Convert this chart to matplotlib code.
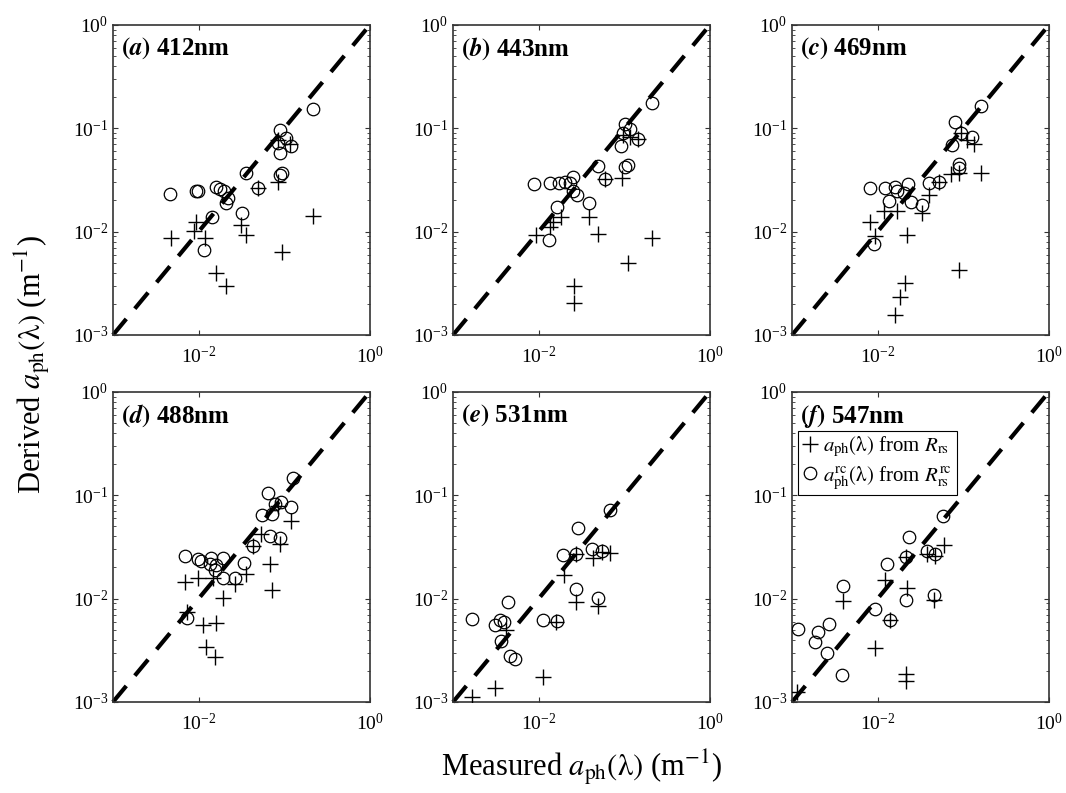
import numpy as np
import matplotlib.pyplot as plt
from matplotlib.ticker import LogLocator, NullFormatter, NullLocator

plt.rcParams['font.family'] = ['Liberation Serif', 'DejaVu Serif']
plt.rcParams['mathtext.fontset'] = 'stix'

# measured vs derived phytoplankton absorption (m^-1), one block per band
# "rs": derived from Rrs, "rc": derived from corrected Rrs
a_meas_rs = [0.0835, 0.116, 0.0845, 0.0495, 0.218, 0.0094, 0.00885, 0.0119,
             0.0047, 0.0316, 0.0361, 0.0953, 0.0161, 0.0211]
a_der_rs = [0.077, 0.0705, 0.0305, 0.0262, 0.0142, 0.0125, 0.0102, 0.0086,
            0.0086, 0.0116, 0.0093, 0.0064, 0.00395, 0.0030]
a_meas_rc = [0.218, 0.0887, 0.106, 0.085, 0.121, 0.0887, 0.093, 0.0887, 0.0361,
             0.0495, 0.00468, 0.0094, 0.0098, 0.0161, 0.0176, 0.0196, 0.0221,
             0.0208, 0.0142, 0.0319, 0.0116]
a_der_rc = [0.153, 0.0964, 0.080, 0.0716, 0.0675, 0.057, 0.0367, 0.035, 0.0372,
            0.0262, 0.023, 0.0248, 0.0245, 0.0272, 0.026, 0.0249, 0.021,
            0.0188, 0.014, 0.0153, 0.00665]

b_meas_rs = [0.0953, 0.116, 0.145, 0.0593, 0.093, 0.0184, 0.0389, 0.0148,
             0.0135, 0.00925, 0.0495, 0.21, 0.111, 0.0257, 0.0257]
b_der_rs = [0.086, 0.083, 0.0789, 0.032, 0.0328, 0.014, 0.014, 0.0125, 0.0112,
            0.0093, 0.0094, 0.0086, 0.00494, 0.00298, 0.00202]
b_meas_rc = [0.21, 0.1014, 0.116, 0.0971, 0.145, 0.0926, 0.111, 0.101, 0.0495,
             0.0593, 0.00877, 0.0135, 0.0173, 0.0201, 0.0253, 0.0231, 0.0253,
             0.0277, 0.0389, 0.0164, 0.0132]
b_der_rc = [0.177, 0.109, 0.0977, 0.0895, 0.0789, 0.0675, 0.0442, 0.0425,
            0.0431, 0.032, 0.0287, 0.0298, 0.0295, 0.0305, 0.034, 0.0295,
            0.0249, 0.0226, 0.0188, 0.0172, 0.0083]

c_meas_rs = [0.093, 0.111, 0.133, 0.0887, 0.159, 0.071, 0.0517, 0.0395, 0.0325,
             0.0166, 0.0118, 0.0081, 0.0093, 0.0221, 0.0887, 0.0211, 0.0184,
             0.0161]
c_der_rs = [0.0895, 0.077, 0.0705, 0.0367, 0.037, 0.0361, 0.0305, 0.0226,
            0.0153, 0.016, 0.0159, 0.0125, 0.0091, 0.0093, 0.00425, 0.00316,
            0.00235, 0.00156]
c_meas_rc = [0.159, 0.081, 0.093, 0.127, 0.074, 0.0887, 0.0887, 0.0517, 0.0395,
             0.0081, 0.0121, 0.0161, 0.0227, 0.0168, 0.0202, 0.0135, 0.0242,
             0.0325, 0.00917]
c_der_rc = [0.164, 0.116, 0.0895, 0.0818, 0.069, 0.0452, 0.0411, 0.0305,
            0.0298, 0.0267, 0.0267, 0.0272, 0.029, 0.0245, 0.0235, 0.0198,
            0.0195, 0.0181, 0.0076]

d_meas_rs = [0.0835, 0.121, 0.0542, 0.0887, 0.0432, 0.0676, 0.0361, 0.0264,
             0.071, 0.00985, 0.00689, 0.0148, 0.0193, 0.0073, 0.0111, 0.0161,
             0.0123, 0.0155]
d_der_rs = [0.0787, 0.0565, 0.0419, 0.0334, 0.0322, 0.0214, 0.0173, 0.0137,
            0.012, 0.0158, 0.0145, 0.0158, 0.0101, 0.0075, 0.00557, 0.0058,
            0.00343, 0.00274]
d_meas_rc = [0.127, 0.0649, 0.0776, 0.0926, 0.121, 0.0556, 0.071, 0.069,
             0.0887, 0.0432, 0.00689, 0.00985, 0.0106, 0.0141, 0.0191, 0.0135,
             0.0161, 0.0155, 0.0337, 0.0193, 0.0264, 0.00733]
d_der_rc = [0.146, 0.104, 0.082, 0.0866, 0.0773, 0.0641, 0.066, 0.0404,
            0.0383, 0.0322, 0.0258, 0.0243, 0.0231, 0.0248, 0.0248, 0.0217,
            0.0211, 0.0191, 0.0222, 0.0158, 0.0158, 0.00647]

e_meas_rs = [0.0677, 0.0556, 0.0432, 0.0276, 0.0197, 0.0276, 0.0495, 0.0161,
             0.0042, 0.0113, 0.00307, 0.00168]
e_der_rs = [0.0277, 0.0285, 0.0248, 0.027, 0.0171, 0.0093, 0.0084, 0.0059,
            0.00498, 0.00175, 0.00137, 0.00112]
e_meas_rc = [0.0677, 0.0289, 0.0425, 0.0556, 0.0276, 0.0193, 0.0276, 0.0495,
             0.0044, 0.00168, 0.0113, 0.0164, 0.00351, 0.0039, 0.00307,
             0.00367, 0.0046, 0.00526]
e_der_rc = [0.0716, 0.0479, 0.0303, 0.0292, 0.0272, 0.0265, 0.0125, 0.0101,
            0.0092, 0.00637, 0.0062, 0.0061, 0.0062, 0.0059, 0.00557, 0.00389,
            0.0028, 0.0026]

f_meas_rs = [0.0597, 0.0378, 0.0473, 0.0217, 0.0123, 0.0222, 0.046, 0.00394,
             0.0141, 0.0094, 0.0217, 0.0217, 0.00113]
f_der_rs = [0.033, 0.0268, 0.026, 0.0254, 0.0153, 0.0127, 0.00975, 0.0094,
            0.00623, 0.00335, 0.00185, 0.0016, 0.00125]
f_meas_rc = [0.0582, 0.0231, 0.0378, 0.0473, 0.0217, 0.0129, 0.00394, 0.046,
             0.0217, 0.0094, 0.0141, 0.00116, 0.0020, 0.00269, 0.00187,
             0.00253, 0.00384]
f_der_rc = [0.0631, 0.0397, 0.0292, 0.0268, 0.0254, 0.0214, 0.0131, 0.0109,
            0.00975, 0.008, 0.00623, 0.0051, 0.0048, 0.00566, 0.00378,
            0.00295, 0.00184]

panel_tags = ['a', 'b', 'c', 'd', 'e', 'f']
wavelengths = ['412nm', '443nm', '469nm', '488nm', '531nm', '547nm']
meas_rs = [a_meas_rs, b_meas_rs, c_meas_rs, d_meas_rs, e_meas_rs, f_meas_rs]
der_rs = [a_der_rs, b_der_rs, c_der_rs, d_der_rs, e_der_rs, f_der_rs]
meas_rc = [a_meas_rc, b_meas_rc, c_meas_rc, d_meas_rc, e_meas_rc, f_meas_rc]
der_rc = [a_der_rc, b_der_rc, c_der_rc, d_der_rc, e_der_rc, f_der_rc]

fig = plt.figure(figsize=(10.66, 7.93), dpi=100)

lefts = [0.106, 0.425, 0.743]
bottoms = [0.5776, 0.1148]
w, h = 0.241, 0.391

lam = r'(\mathrm{\lambda})'

for i in range(6):
    ax = fig.add_axes([lefts[i % 3], bottoms[i // 3], w, h])
    ax.set_xscale('log')
    ax.set_yscale('log')
    ax.set_xlim(1e-3, 1)
    ax.set_ylim(1e-3, 1)

    # 1:1 line
    ax.plot([1e-3, 1], [1e-3, 1], color='black', linestyle=(0, (5, 3.2)),
            linewidth=3, clip_on=False, zorder=1)
    ax.plot(meas_rs[i], der_rs[i], linestyle='none', marker='+', markersize=11,
            markeredgewidth=1.0, color='black', zorder=3,
            label=r'$a_{\rm ph}' + lam + r'$ from $R_{\rm rs}$')
    ax.plot(meas_rc[i], der_rc[i], linestyle='none', marker='o', markersize=9,
            markeredgewidth=0.9, markerfacecolor='none', color='black', zorder=3,
            label=r'$a^{\rm rc}_{\rm ph}' + lam + r'$ from $R^{\rm rc}_{\rm rs}$')

    ax.set_xticks([1e-2, 1])
    ax.set_yticks([1e-3, 1e-2, 1e-1, 1])
    ax.xaxis.set_minor_locator(NullLocator())
    ax.yaxis.set_minor_locator(LogLocator(base=10, subs=np.arange(2, 10), numticks=20))
    ax.yaxis.set_minor_formatter(NullFormatter())
    ax.tick_params(which='both', direction='in', top=True, right=True,
                   labelsize=14, colors='#333333', labelcolor='black')
    ax.tick_params(which='major', length=3.5, width=0.8)
    ax.tick_params(which='minor', length=2, width=0.6)
    ax.tick_params(axis='x', pad=8)
    for s in ax.spines.values():
        s.set_linewidth(1.2)
        s.set_color('#333333')

    ax.text(0.03, 0.965,
            r'$\mathbf{(}\mathbfit{' + panel_tags[i] + r'}\mathbf{)}$ ' + wavelengths[i],
            transform=ax.transAxes, ha='left', va='top', fontsize=18,
            fontweight='bold')

    if i == 5:
        leg = ax.legend(loc='upper left', bbox_to_anchor=(0.025, 0.875),
                        fontsize=15, handlelength=0.7, handletextpad=0.3,
                        borderpad=0.2, labelspacing=0.25, borderaxespad=0,
                        fancybox=False, framealpha=1, edgecolor='black')
        leg.get_frame().set_linewidth(0.8)

fig.text(0.545, 0.033, r'Measured $a_{\rm ph}' + lam + r'$ (m$^{-1}$)',
         ha='center', va='center', fontsize=22)
fig.text(0.03, 0.54, r'Derived $a_{\rm ph}' + lam + r'$ (m$^{-1}$)',
         ha='center', va='center', rotation=90, fontsize=22)

plt.savefig('out.png', dpi=100, facecolor='white')
plt.close()
